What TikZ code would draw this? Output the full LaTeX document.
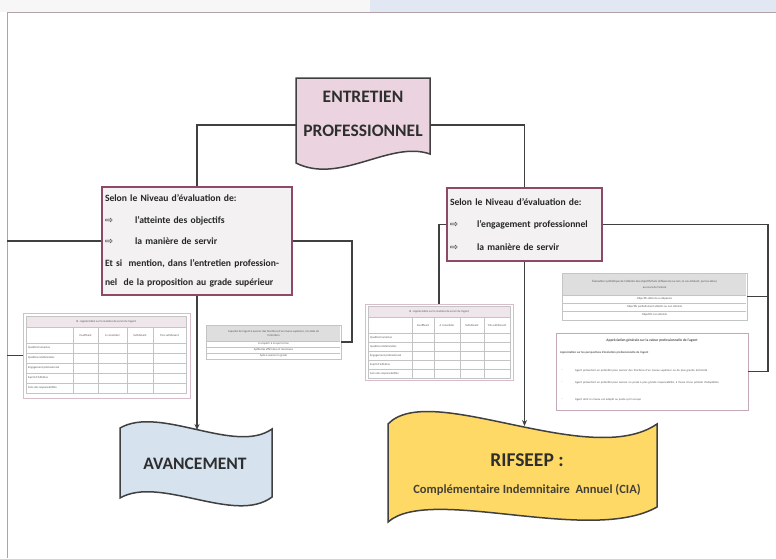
\documentclass[tikz,border=0pt]{standalone}
\usepackage{fontspec}
\setmainfont{Carlito}
\newfontfamily\symfont{DejaVu Sans}
\usetikzlibrary{arrows.meta}
\definecolor{topgray}{HTML}{F7F7F7}
\definecolor{topblue}{HTML}{E2E8F3}
\definecolor{framec}{HTML}{B3A3A6}
\definecolor{cline}{HTML}{404040}
\definecolor{boxborder}{HTML}{8C4A68}
\definecolor{boxfill}{HTML}{F3F1F2}
\definecolor{pinkfill}{HTML}{EBD4DF}
\definecolor{bluefill}{HTML}{D6E3EF}
\definecolor{yellowfill}{HTML}{FFD966}
\definecolor{tblborder}{HTML}{D9BCCA}
\definecolor{gridc}{HTML}{C4C4C4}
\definecolor{hdrpink}{HTML}{EEE6EA}
\definecolor{hdrgray}{HTML}{DEDEDE}
\definecolor{tinyc}{HTML}{555555}
\definecolor{titlec}{HTML}{2E2E2E}
\begin{document}
\begin{tikzpicture}[x=1pt,y=-1pt,
  conn/.style={draw=cline, line width=1.8pt},
  arr/.style={conn, -{Stealth[length=6pt,width=5pt]}},
  infobox/.style={draw=boxborder, line width=1.6pt, fill=boxfill, align=left,
    inner xsep=3pt, font=\fontsize{9.6}{21.5}\selectfont\bfseries, text=black!85},
  shapeline/.style={draw=cline, line width=1.5pt},
  tbl/.style={draw=tblborder, line width=0.8pt, fill=white},
  grid/.style={draw=gridc, line width=0.55pt},
  tinytxt/.style={font=\fontsize{2.9}{3.4}\selectfont, text=tinyc, inner sep=0pt},
  bigtxt/.style={font=\bfseries, text=titlec, align=center, inner sep=0pt}]
\useasboundingbox (0,0) rectangle (776,558);
% background and frame
\fill[topgray] (0,0) rectangle (776,12);
\fill[topblue] (370,0) rectangle (776,12);
\fill[white] (7,12) rectangle (776,558);
\draw[framec, line width=0.9pt] (7,558) -- (7,12) -- (776,12);
\coordinate (fl) at (7,241);
\coordinate (lk) at (352,241);
\coordinate (rk) at (768,372);

% top document shape
\draw[shapeline, fill=pinkfill] (296,78) -- (430,78) -- (430,154)
  .. controls (390,140) and (340,185) .. (296,163) -- cycle;
\node[bigtxt, font=\fontsize{17.5}{34}\selectfont\bfseries, minimum width=134pt, minimum height=72pt]
  (ep) at (363,114) {ENTRETIEN\\PROFESSIONNEL};

% info boxes
\node[infobox, minimum width=190pt, minimum height=108pt, text width=184pt] (lbox) at (197,241)
  {Selon le Niveau d'évaluation de:\\
   \makebox[30pt][l]{\symfont\mdseries ⇨}l'atteinte des objectifs\\
   \makebox[30pt][l]{\symfont\mdseries ⇨}la manière de servir\\
   Et si~ mention, dans l'entretien profession-\\[-2.5pt]
   nel~ de la proposition au grade supérieur};
\node[infobox, font=\fontsize{9.6}{22.5}\selectfont\bfseries, minimum width=155pt, minimum height=73pt, text width=149pt] (rbox) at (524.5,224.5)
  {Selon le Niveau d'évaluation de:\\
   \makebox[27pt][l]{\symfont\mdseries ⇨}l'engagement professionnel\\
   \makebox[27pt][l]{\symfont\mdseries ⇨}la manière de servir};

% table 1
\node[tbl, minimum width=167pt, minimum height=85pt] (t1) at (106.5,355.5) {};
\fill[hdrpink] (26,316) rectangle (186,327);
\draw[grid] (26,316) rectangle (186,393);
\draw[grid] (26,327) -- (186,327);
\foreach \x in {73,98,127,153} \draw[grid] (\x,327) -- (\x,393);
\foreach \y in {343,353,363,373,383} \draw[grid] (26,\y) -- (186,\y);
\node[tinytxt] (t1t) at (106,321.5) {III - Appréciation sur la manière de servir de l'agent};
\foreach \x/\t [count=\i] in {85.5/Insuffisant,112.5/A consolider,140/Satisfaisant,169.5/Très satisfaisant}
  \node[tinytxt] (t1c\i) at (\x,335) {\t};
\foreach \y/\t [count=\i] in {348/Qualités humaines,358/Qualités relationnelles,368/Engagement professionnel,378/Esprit d'initiative,388/Sens des responsabilités}
  \node[tinytxt, anchor=west] (t1r\i) at (28,\y) {\t};

% table 2
\node[tbl, draw=gridc, minimum width=135pt, minimum height=34pt] (t2) at (273.5,342) {};
\fill[hdrgray] (207,326) rectangle (340,341);
\foreach \y in {341,347,353} \draw[grid] (207,\y) -- (340,\y);
\node[tinytxt, align=center] (t2t) at (273.5,333.5) {Capacité de l'agent à exercer des fonctions d'un niveau supérieur, à la date de\\ l'entretien};
\foreach \y/\t [count=\i] in {344/A acquérir à moyen terme,350/Aptitudes affirmées et reconnues,356/Apte à exercer le grade}
  \node[tinytxt] (t2r\i) at (273.5,\y) {\t};

% table 3
\node[tbl, minimum width=148pt, minimum height=76pt] (t3) at (439,342) {};
\fill[hdrpink] (368,306) rectangle (510,317);
\draw[grid] (368,306) rectangle (510,378);
\draw[grid] (368,317) -- (510,317);
\foreach \x in {412,434,460,484} \draw[grid] (\x,317) -- (\x,378);
\foreach \y in {333,342,351,360,369} \draw[grid] (368,\y) -- (510,\y);
\node[tinytxt] (t3t) at (439,311.5) {III - Appréciation sur la manière de servir de l'agent};
\foreach \x/\t [count=\i] in {423/Insuffisant,447/A consolider,472/Satisfaisant,497/Très satisfaisant}
  \node[tinytxt] (t3c\i) at (\x,325) {\t};
\foreach \y/\t [count=\i] in {337.5/Qualités humaines,346.5/Qualités relationnelles,355.5/Engagement professionnel,364.5/Esprit d'initiative,373.5/Sens des responsabilités}
  \node[tinytxt, anchor=west] (t3r\i) at (370,\y) {\t};

% table 4
\node[tbl, draw=gridc, minimum width=185pt, minimum height=47pt] (t4) at (654.5,296.5) {};
\fill[hdrgray] (563,274) rectangle (746,295);
\foreach \y in {295,303,311} \draw[grid] (563,\y) -- (746,\y);
\node[tinytxt, align=center, font=\fontsize{3}{6}\selectfont] (t4t) at (654.5,284.5) {Évaluation synthétique de l'atteinte des objectifs fixés (influencée ou non, le cas échéant, par les aléas)\\ au cours de l'année};
\foreach \y/\t [count=\i] in {299/Objectifs atteints ou dépassés,307/Objectifs partiellement atteints ou non atteints,315/Objectifs non atteints}
  \node[tinytxt] (t4r\i) at (654.5,\y) {\t};

% table 5
\node[tbl, draw=tblborder!90!black, minimum width=192pt, minimum height=77pt] (t5) at (652,371.5) {};
\node[tinytxt, font=\fontsize{3.6}{4}\selectfont\bfseries, text=black!70] (t5t) at (652,340) {Appréciation générale sur la valeur professionnelle de l'agent};
\node[tinytxt, anchor=west, font=\fontsize{3}{3.6}\selectfont\bfseries] (t5s) at (560,353) {Appréciation sur les perspectives d'évolution professionnelle de l'agent};
\node[tinytxt, anchor=north west, align=left, text width=170pt] (t5a) at (575,369) {Agent présentant un potentiel pour exercer des fonctions d'un niveau supérieur ou de plus grande technicité};
\node[tinytxt, anchor=north west, align=left, text width=170pt] (t5b) at (575,381) {Agent présentant un potentiel pour exercer un poste à plus grande responsabilité, à l'issue d'une période d'adaptation};
\node[tinytxt, anchor=north west, align=left, text width=170pt] (t5c) at (575,398) {Agent dont le niveau est adapté au poste qu'il occupe};
\foreach \y [count=\i] in {370,382,399} \node[tinytxt] (t5d\i) at (562,\y) {-};

% banners
\draw[shapeline, fill=bluefill] (120,428) .. controls (160,405) and (235,455) .. (272,429)
  -- (272,497) .. controls (235,525) and (160,475) .. (120,498) -- cycle;
\node[bigtxt, font=\fontsize{17.5}{20}\selectfont\bfseries] (av) at (195,464) {AVANCEMENT};
\coordinate (avtop) at (197,430);
\draw[shapeline, fill=yellowfill] (388,424) .. controls (430,380) and (590,470) .. (657,424)
  -- (657,507) .. controls (590,545) and (430,485) .. (388,522) -- cycle;
\node[bigtxt, font=\fontsize{19.5}{20}\selectfont\bfseries] (rif) at (527,460) {RIFSEEP :};
\node[bigtxt, font=\fontsize{12.5}{15}\selectfont\bfseries, text=black!85!yellow] (cia) at (527,490) {Complémentaire Indemnitaire~ Annuel (CIA)};
\coordinate (rftop) at (524.5,426);

% connectors
\draw[conn] ([yshift=-11pt]ep.west) -| (lbox.north);
\draw[conn] ([yshift=-11pt]ep.east) -| (rbox.north);
\draw[conn] (lbox.west) -- (lbox.west -| fl);
\draw[conn] (t1.west) -- (t1.west -| fl);
\draw[conn] (lbox.east) -- (lk) |- (t2.east);
\draw[arr] (lbox.south) -- (avtop);
\draw[conn] (rbox.west) -| (t3.north);
\draw[arr] (rbox.south) -- (rftop);
\draw[conn] (rbox.east) -| (rk);
\draw[conn] (t4.east) -- (t4.east -| rk);
\draw[conn] (t5.east) -- (t5.east -| rk);
\end{tikzpicture}
\end{document}
